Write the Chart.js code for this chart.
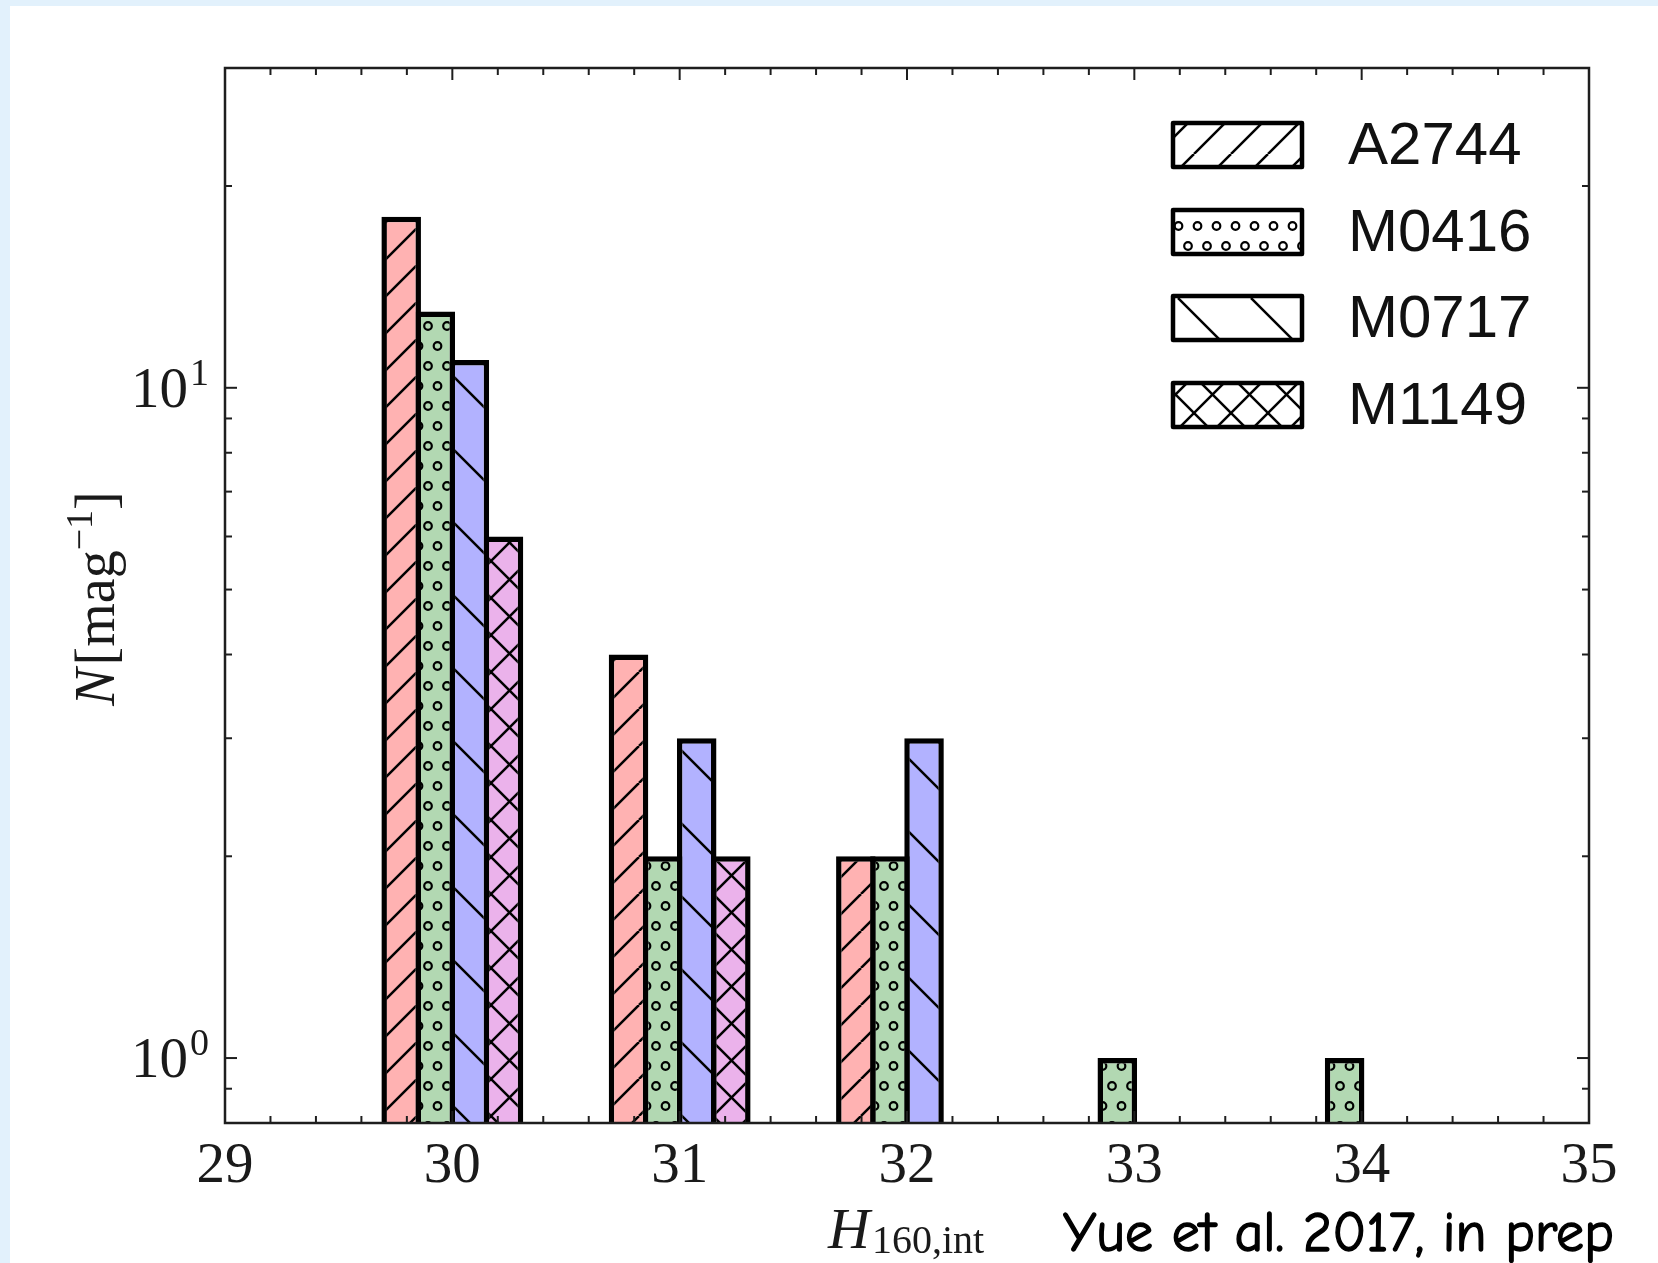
<!DOCTYPE html>
<html>
<head>
<meta charset="utf-8">
<script src="https://cdn.jsdelivr.net/npm/chart.js@4.4.1/dist/chart.umd.min.js"></script>
<style>
html, body { margin: 0; padding: 0; width: 1658px; height: 1263px; overflow: hidden; background: #e2f1fc; }
#panel { position: absolute; left: 10px; top: 6px; width: 1648px; height: 1257px; background: #fff; }
canvas { display: block; }
</style>
</head>
<body>
<div id="panel"><canvas id="histo" width="1648" height="1257"></canvas></div>
<script>
// cluster fields and binned counts per magnitude bin
const fields = ['A2744', 'M0416', 'M0717', 'M1149'];
const magBins = [30, 31, 32, 33, 34];
const countsA2744 = [18, 4, 2, null, null];
const countsM0416 = [13, 2, 2, 1, 1];
const countsM0717 = [11, 3, 3, null, null];
const countsM1149 = [6, 2, null, null, null];
const xTickValues = [29, 30, 31, 32, 33, 34, 35];
const yMajorTicks = [1, 10];
const yMinorTicks = [0.8, 0.9, 2, 3, 4, 5, 6, 7, 8, 9, 20, 30];
const yTickExponents = ['0', '1'];

const fillColors = ['#ffb2b2', '#b2d8b2', '#b2b2ff', '#ebb2eb'];
const hatchKinds = ['/', 'o', '\\', 'x'];
const allCounts = [countsA2744, countsM0416, countsM0717, countsM1149];

const SERIF = "'Liberation Serif', 'DejaVu Serif', serif";
const SANS = "'Liberation Sans', Arimo, 'DejaVu Sans', sans-serif";

// build a repeating hatch tile on top of a background colour
function hatchPattern(kind, bg) {
    const c = document.createElement('canvas');
    let w = 37, h = 37;
    if (kind === '\\') { w = 73; h = 73; }
    if (kind === 'o') { w = 19; h = 40; }
    c.width = w; c.height = h;
    const g = c.getContext('2d');
    g.fillStyle = bg;
    g.fillRect(0, 0, w, h);
    g.strokeStyle = '#000';
    g.lineWidth = 2.5;
    const seg = (x1, y1, x2, y2) => { g.beginPath(); g.moveTo(x1, y1); g.lineTo(x2, y2); g.stroke(); };
    if (kind === '/' || kind === 'x') {
        for (let k = -1; k <= 1; k++) seg(k * w, h, k * w + w, 0);
    }
    if (kind === '\\' || kind === 'x') {
        for (let k = -1; k <= 1; k++) seg(k * w, 0, k * w + w, h);
    }
    if (kind === 'o') {
        g.lineWidth = 2.2;
        [[0, 0], [w, 0], [0, h], [w, h], [w / 2, h / 2]].forEach(([cx, cy]) => {
            g.beginPath(); g.arc(cx, cy, 3.8, 0, Math.PI * 2); g.stroke();
        });
    }
    return g.createPattern(c, 'repeat');
}

function toPoints(vals) {
    return magBins.map((m, i) => ({ x: m, y: vals[i] })).filter(p => p.y !== null);
}

const ctx = document.getElementById('histo').getContext('2d');

const datasets = fields.map((name, i) => ({
    label: name,
    data: toPoints(allCounts[i]),
    backgroundColor: hatchPattern(hatchKinds[i], fillColors[i]),
    borderColor: '#000',
    borderWidth: 5.5,
    categoryPercentage: 0.6,
    barPercentage: 1.16
}));

// frame, inward ticks, math-style labels, legend and credit line
const decorations = {
    id: 'decorations',
    afterDatasetsDraw(chart) {
        const c = chart.ctx;
        const { left, right, top, bottom } = chart.chartArea;
        const xs = chart.scales.x, ys = chart.scales.y;
        c.save();

        // frame
        c.strokeStyle = '#1e1e1e';
        c.lineWidth = 2.5;
        c.strokeRect(left, top, right - left, bottom - top);

        // x ticks (major at integers, minor every 0.2)
        c.lineWidth = 2;
        const tick = (x1, y1, x2, y2) => { c.beginPath(); c.moveTo(x1, y1); c.lineTo(x2, y2); c.stroke(); };
        xTickValues.forEach((v, i) => {
            const px = xs.getPixelForValue(v);
            tick(px, bottom, px, bottom - 12);
            tick(px, top, px, top + 12);
            if (i < xTickValues.length - 1) {
                for (let k = 1; k < 5; k++) {
                    const mx = xs.getPixelForValue(v + k * 0.2);
                    tick(mx, bottom, mx, bottom - 7);
                    tick(mx, top, mx, top + 7);
                }
            }
        });
        yMajorTicks.forEach(v => {
            const py = ys.getPixelForValue(v);
            tick(left, py, left + 12, py);
            tick(right, py, right - 12, py);
        });
        yMinorTicks.forEach(v => {
            const py = ys.getPixelForValue(v);
            tick(left, py, left + 7, py);
            tick(right, py, right - 7, py);
        });

        // y tick labels 10^0, 10^1
        c.fillStyle = '#1a1a1a';
        c.textBaseline = 'alphabetic';
        yMajorTicks.forEach((v, i) => {
            const py = ys.getPixelForValue(v);
            c.font = '57px ' + SERIF;
            c.textAlign = 'right';
            c.fillText('10', 178, py + 19);
            c.font = '38px ' + SERIF;
            c.textAlign = 'left';
            c.fillText(yTickExponents[i], 180, py - 3);
        });

        // x title H_{160,int}
        c.textAlign = 'left';
        c.font = 'italic 58px ' + SERIF;
        c.fillText('H', 818, 1242);
        const hW = c.measureText('H').width;
        c.font = '40px ' + SERIF;
        c.fillText('160,int', 818 + hW + 2, 1247);

        // y title N[mag^-1], rotated
        c.save();
        c.translate(104, 594);
        c.rotate(-Math.PI / 2);
        const parts = [
            { t: 'N', f: 'italic 56px ' + SERIF, dy: 0 },
            { t: '[mag', f: '56px ' + SERIF, dy: 0 },
            { t: '\u22121', f: '38px ' + SERIF, dy: -22 },
            { t: ']', f: '56px ' + SERIF, dy: 0 }
        ];
        let total = 0;
        parts.forEach(p => { c.font = p.f; p.w = c.measureText(p.t).width; total += p.w; });
        let cx = -total / 2;
        parts.forEach(p => { c.font = p.f; c.fillText(p.t, cx, p.dy); cx += p.w + (p.t === 'N' ? 3 : 0); });
        c.restore();

        // legend
        const rowY = [139, 226, 312, 399];
        fields.forEach((name, i) => {
            const bx = 1163, by = rowY[i] - 22, bw = 129, bh = 44;
            c.fillStyle = hatchPattern(hatchKinds[i], '#ffffff');
            c.fillRect(bx, by, bw, bh);
            c.strokeStyle = '#000';
            c.lineWidth = 4.5;
            c.lineJoin = 'round';
            c.strokeRect(bx, by, bw, bh);
            c.fillStyle = '#111';
            c.font = '60px ' + SANS;
            c.textAlign = 'left';
            c.textBaseline = 'middle';
            c.fillText(name, 1338, rowY[i] + 2);
        });

        // credit line, thickened a little with a matching stroke
        const credit = 'Yue et al. 2017, in prep';
        const fam = "'Comic Sans MS', 'Comic Neue', 'DejaVu Sans', sans-serif";
        c.font = '50px ' + fam;
        const fit = Math.min(56, 50 * 560 / c.measureText(credit).width);
        c.font = fit.toFixed(1) + 'px ' + fam;
        c.fillStyle = '#000';
        c.strokeStyle = '#000';
        c.lineWidth = 1.4;
        c.lineJoin = 'round';
        c.textAlign = 'left';
        c.textBaseline = 'alphabetic';
        c.fillText(credit, 1053, 1245);
        c.strokeText(credit, 1053, 1245);

        c.restore();
    }
};

new Chart(ctx, {
    type: 'bar',
    data: { datasets: datasets },
    options: {
        responsive: false,
        animation: false,
        layout: { padding: { left: 215, right: 69, top: 62, bottom: 0 } },
        plugins: {
            legend: { display: false },
            tooltip: { enabled: false }
        },
        scales: {
            x: {
                type: 'linear',
                min: 29,
                max: 35,
                offset: false,
                grid: { display: false, drawTicks: false, offset: false },
                border: { display: false },
                afterBuildTicks: s => { s.ticks = xTickValues.map(v => ({ value: v })); },
                afterFit: s => { s.height = 140; },
                ticks: {
                    font: { family: SERIF, size: 57 },
                    color: '#1a1a1a',
                    padding: 10,
                    maxRotation: 0,
                    callback: v => String(v)
                }
            },
            y: {
                type: 'logarithmic',
                min: 0.8,
                max: 30,
                display: false
            }
        }
    },
    plugins: [decorations]
});
</script>
</body>
</html>
